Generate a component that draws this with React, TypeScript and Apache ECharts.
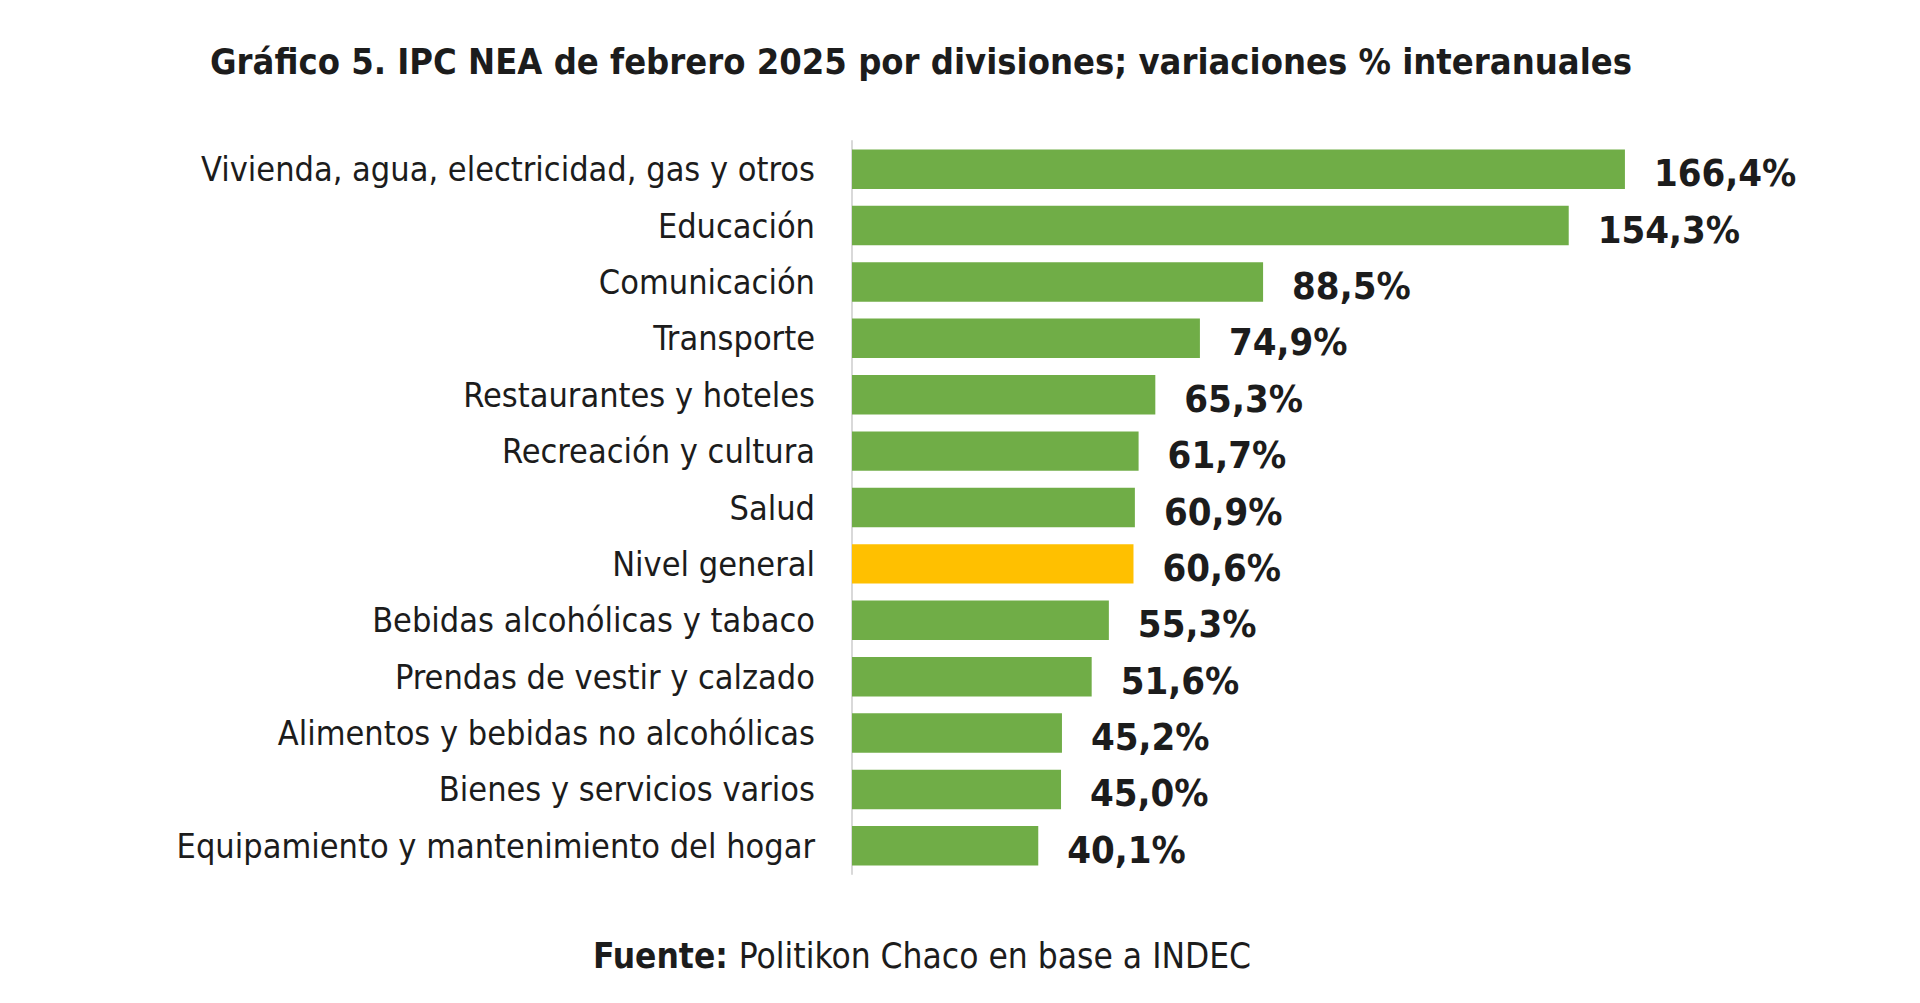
import React, { useEffect, useRef } from "react";
import * as echarts from "echarts";

// Divisiones del IPC NEA, de mayor a menor variación interanual
const categories: string[] = [
  "Vivienda, agua, electricidad, gas y otros",
  "Educación",
  "Comunicación",
  "Transporte",
  "Restaurantes y hoteles",
  "Recreación y cultura",
  "Salud",
  "Nivel general",
  "Bebidas alcohólicas y tabaco",
  "Prendas de vestir y calzado",
  "Alimentos y bebidas no alcohólicas",
  "Bienes y servicios varios",
  "Equipamiento y mantenimiento del hogar",
];

const values: number[] = [166.4, 154.3, 88.5, 74.9, 65.3, 61.7, 60.9, 60.6, 55.3, 51.6, 45.2, 45.0, 40.1];

const highlightCategory = "Nivel general";

const GREEN = "#70ad47";
const GOLD = "#ffc000";
const TEXT = "#1c1c1c";
const FONT = "'Liberation Sans Narrow', 'DejaVu Sans Condensed', 'Roboto', sans-serif";

const fmt = (v: number) => v.toFixed(1).replace(".", ",") + "%";

export default function App() {
  const ref = useRef<HTMLDivElement>(null);

  useEffect(() => {
    document.body.style.margin = "0";
    document.body.style.background = "#ffffff";
    if (!ref.current) return;
    const chart = echarts.init(ref.current, undefined, { renderer: "svg" });

    chart.setOption({
      animation: false,
      backgroundColor: "#ffffff",
      grid: { left: 852, top: 141, width: 929, height: 733, containLabel: false },
      xAxis: {
        type: "value",
        min: 0,
        max: 200,
        show: false,
      },
      yAxis: {
        type: "category",
        inverse: true,
        data: categories,
        axisLine: { show: true, lineStyle: { color: "#d9d9d9", width: 2 } },
        axisTick: { show: false },
        axisLabel: {
          color: TEXT,
          fontFamily: FONT,
          fontSize: 34,
          margin: 37,
        },
      },
      series: [
        {
          type: "bar",
          barWidth: "70%",
          data: values.map((v, i) => ({
            value: v,
            itemStyle: { color: categories[i] === highlightCategory ? GOLD : GREEN },
          })),
          label: {
            show: true,
            position: "right",
            distance: 29,
            offset: [0, 4],
            color: TEXT,
            fontFamily: FONT,
            fontSize: 38,
            fontWeight: "bold",
            formatter: (p: any) => fmt(p.value),
          },
        },
      ],
      graphic: [
        {
          type: "text",
          x: 921,
          y: 61,
          style: {
            text: "Gráfico 5. IPC NEA de febrero 2025 por divisiones; variaciones % interanuales",
            fill: TEXT,
            font: `bold 36px ${FONT}`,
            textAlign: "center",
            textVerticalAlign: "middle",
          },
        },
        {
          type: "text",
          x: 922,
          y: 956,
          style: {
            text: "{b|Fuente: }{r|Politikon Chaco en base a INDEC}",
            textAlign: "center",
            textVerticalAlign: "middle",
            rich: {
              b: { fontFamily: FONT, fontSize: 35, fontWeight: "bold", fill: TEXT },
              r: { fontFamily: FONT, fontSize: 35, fill: TEXT },
            },
          },
        },
      ],
    });

    return () => chart.dispose();
  }, []);

  return <div ref={ref} style={{ width: 1920, height: 1003 }} />;
}
